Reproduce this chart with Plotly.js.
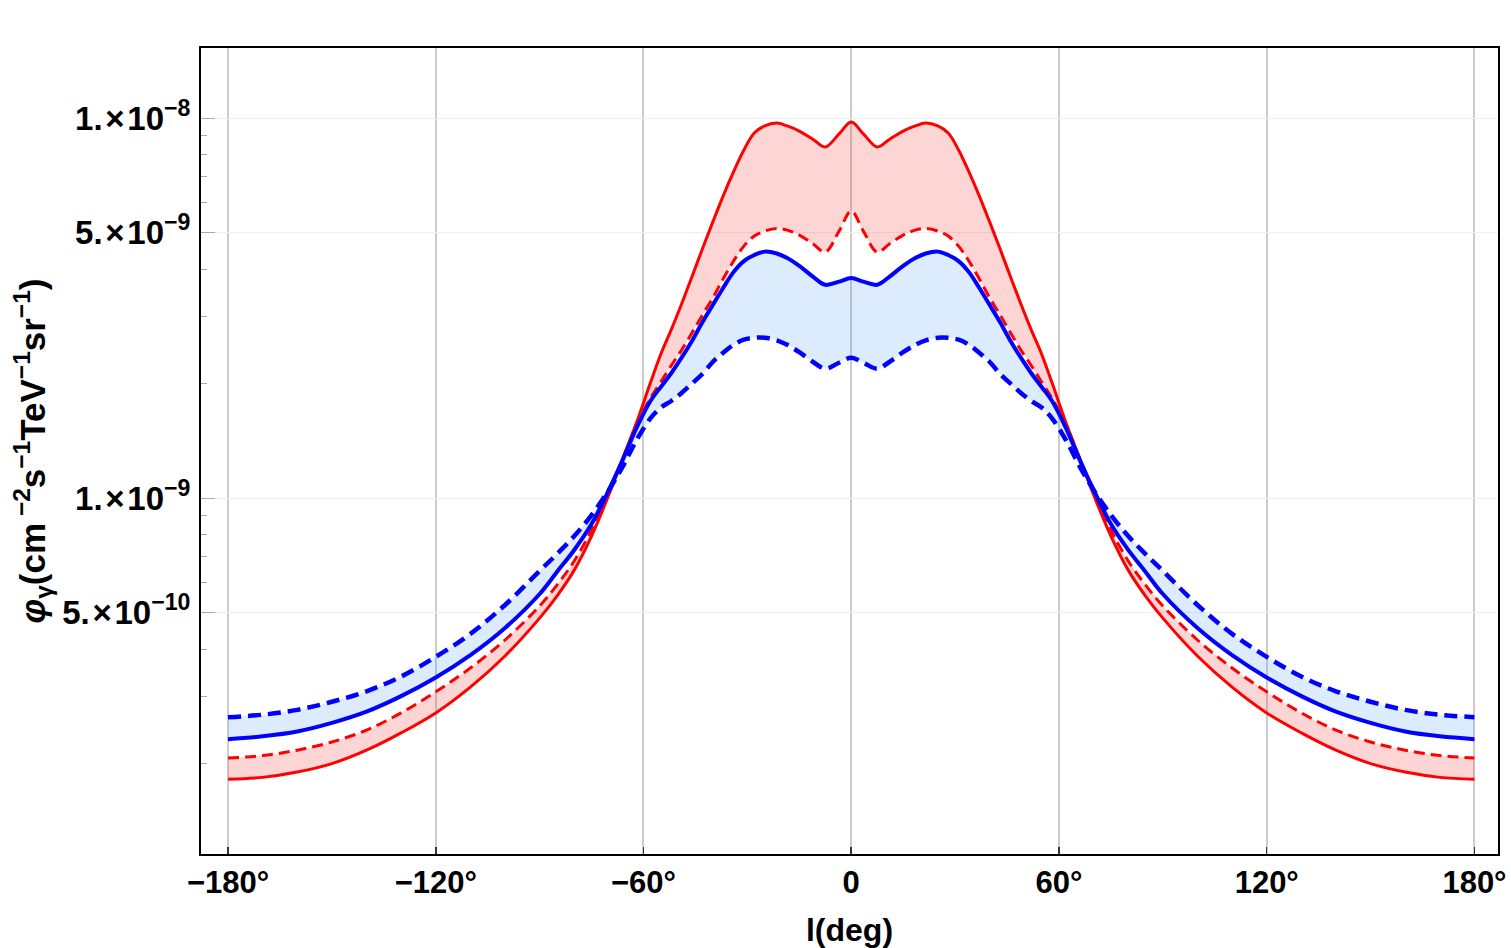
<!DOCTYPE html>
<html>
<head>
<meta charset="utf-8">
<script src="https://cdn.plot.ly/plotly-3.0.1.min.js"></script>
<style>
  html, body { margin: 0; padding: 0; background: #ffffff; }
  #chart { width: 1511px; height: 948px; }
</style>
</head>
<body>
<div id="chart"></div>
<script>
// Galactic longitude samples (degrees)
const longitude = [-180,-170,-160,-150,-140,-130,-120,-110,-100,-90,-85,-80,-75,-70,-66,-62,-58,-55,-52,-49,-46,-43,-40,-37,-34,-31,-28,-25,-21.5,-18.5,-15,-11,-7.5,-3.5,
  0,
  3.5,7.5,11,15,18.5,21.5,25,28,31,34,37,40,43,46,49,52,55,58,62,66,70,75,80,85,90,100,110,120,130,140,150,160,170,180];

// Gamma-ray flux profiles, cm^-2 s^-1 TeV^-1 sr^-1
const redSolid = [1.82e-10,1.84e-10,1.90e-10,2.00e-10,2.17e-10,2.41e-10,2.72e-10,3.18e-10,3.84e-10,4.83e-10,5.52e-10,6.46e-10,7.94e-10,1.02e-9,1.27e-9,1.58e-9,2.01e-9,2.39e-9,2.77e-9,3.24e-9,3.82e-9,4.52e-9,5.32e-9,6.23e-9,7.21e-9,8.24e-9,9.13e-9,9.53e-9,9.70e-9,9.53e-9,9.24e-9,8.78e-9,8.39e-9,9.08e-9,
  9.76e-9,
  9.08e-9,8.39e-9,8.78e-9,9.24e-9,9.53e-9,9.70e-9,9.53e-9,9.13e-9,8.24e-9,7.21e-9,6.23e-9,5.32e-9,4.52e-9,3.82e-9,3.24e-9,2.77e-9,2.39e-9,2.01e-9,1.58e-9,1.27e-9,1.02e-9,7.94e-10,6.46e-10,5.52e-10,4.83e-10,3.84e-10,3.18e-10,2.72e-10,2.41e-10,2.17e-10,2.00e-10,1.90e-10,1.84e-10,1.82e-10];

const redDashed = [2.07e-10,2.10e-10,2.17e-10,2.28e-10,2.45e-10,2.72e-10,3.09e-10,3.57e-10,4.23e-10,5.20e-10,5.90e-10,6.83e-10,8.24e-10,1.04e-9,1.27e-9,1.56e-9,1.83e-9,2.02e-9,2.23e-9,2.45e-9,2.72e-9,3.03e-9,3.36e-9,3.77e-9,4.20e-9,4.60e-9,4.89e-9,5.04e-9,5.12e-9,5.07e-9,4.92e-9,4.66e-9,4.44e-9,5.04e-9,
  5.69e-9,
  5.04e-9,4.44e-9,4.66e-9,4.92e-9,5.07e-9,5.12e-9,5.04e-9,4.89e-9,4.60e-9,4.20e-9,3.77e-9,3.36e-9,3.03e-9,2.72e-9,2.45e-9,2.23e-9,2.02e-9,1.83e-9,1.56e-9,1.27e-9,1.04e-9,8.24e-10,6.83e-10,5.90e-10,5.20e-10,4.23e-10,3.57e-10,3.09e-10,2.72e-10,2.45e-10,2.28e-10,2.17e-10,2.10e-10,2.07e-10];

const blueSolid = [2.32e-10,2.36e-10,2.43e-10,2.56e-10,2.74e-10,3.01e-10,3.37e-10,3.86e-10,4.55e-10,5.59e-10,6.39e-10,7.30e-10,8.54e-10,1.05e-9,1.26e-9,1.53e-9,1.80e-9,1.96e-9,2.13e-9,2.34e-9,2.59e-9,2.90e-9,3.22e-9,3.57e-9,3.93e-9,4.20e-9,4.36e-9,4.45e-9,4.40e-9,4.28e-9,4.08e-9,3.82e-9,3.64e-9,3.71e-9,
  3.79e-9,
  3.71e-9,3.64e-9,3.82e-9,4.08e-9,4.28e-9,4.40e-9,4.45e-9,4.36e-9,4.20e-9,3.93e-9,3.57e-9,3.22e-9,2.90e-9,2.59e-9,2.34e-9,2.13e-9,1.96e-9,1.80e-9,1.53e-9,1.26e-9,1.05e-9,8.54e-10,7.30e-10,6.39e-10,5.59e-10,4.55e-10,3.86e-10,3.37e-10,3.01e-10,2.74e-10,2.56e-10,2.43e-10,2.36e-10,2.32e-10];

const blueDashed = [2.65e-10,2.69e-10,2.77e-10,2.91e-10,3.10e-10,3.39e-10,3.82e-10,4.39e-10,5.23e-10,6.43e-10,7.12e-10,7.94e-10,9.02e-10,1.05e-9,1.21e-9,1.42e-9,1.62e-9,1.73e-9,1.80e-9,1.89e-9,2.00e-9,2.12e-9,2.28e-9,2.41e-9,2.53e-9,2.61e-9,2.64e-9,2.64e-9,2.60e-9,2.53e-9,2.42e-9,2.28e-9,2.19e-9,2.27e-9,
  2.34e-9,
  2.27e-9,2.19e-9,2.28e-9,2.42e-9,2.53e-9,2.60e-9,2.64e-9,2.64e-9,2.61e-9,2.53e-9,2.41e-9,2.28e-9,2.12e-9,2.00e-9,1.89e-9,1.80e-9,1.73e-9,1.62e-9,1.42e-9,1.21e-9,1.05e-9,9.02e-10,7.94e-10,7.12e-10,6.43e-10,5.23e-10,4.39e-10,3.82e-10,3.39e-10,3.10e-10,2.91e-10,2.77e-10,2.69e-10,2.65e-10];

// Axis ticks
const xTickVals = [-180, -120, -60, 0, 60, 120, 180];
const xTickText = ['\u2212180\u00b0', '\u2212120\u00b0', '\u221260\u00b0', '0', '60\u00b0', '120\u00b0', '180\u00b0'];
const yTickVals = [5e-10, 1e-9, 5e-9, 1e-8];
const yTickText = ['5.\u200a\u00d7\u200a10<sup>\u221210</sup>', '1.\u200a\u00d7\u200a10<sup>\u22129</sup>',
                   '5.\u200a\u00d7\u200a10<sup>\u22129</sup>', '1.\u200a\u00d7\u200a10<sup>\u22128</sup>'];
const yMinorVals = [2e-10, 3e-10, 4e-10, 6e-10, 7e-10, 8e-10, 9e-10,
  2e-9, 3e-9, 4e-9, 6e-9, 7e-9, 8e-9, 9e-9];

const FONT = 'Liberation Sans, Arial, Helvetica, sans-serif';
const RED = '#ff0000';
const BLUE = '#0000ff';

const lineCommon = { shape: 'spline', smoothing: 1 };

const traces = [
  { x: longitude, y: redDashed, mode: 'lines', name: 'red dashed',
    line: Object.assign({ color: RED, width: 3, dash: '11px,6px' }, lineCommon) },
  { x: longitude, y: redSolid, mode: 'lines', name: 'red solid', fill: 'tonexty',
    fillcolor: 'rgba(245,45,45,0.2)',
    line: Object.assign({ color: RED, width: 3 }, lineCommon) },
  { x: longitude, y: blueDashed, mode: 'lines', name: 'blue dashed',
    line: Object.assign({ color: BLUE, width: 4.5, dash: '13px,7px' }, lineCommon) },
  { x: longitude, y: blueSolid, mode: 'lines', name: 'blue solid', fill: 'tonexty',
    fillcolor: 'rgba(80,160,240,0.2)',
    line: Object.assign({ color: BLUE, width: 4 }, lineCommon) }
];

const layout = {
  width: 1511, height: 948,
  margin: { l: 201, r: 13, t: 48, b: 94, pad: 0 },
  paper_bgcolor: '#ffffff', plot_bgcolor: '#ffffff',
  showlegend: false,
  font: { family: FONT, color: '#000000' },
  xaxis: {
    range: [-187.8, 186.8],
    tickmode: 'array', tickvals: xTickVals, ticktext: xTickText,
    ticks: 'inside', ticklen: 7, tickwidth: 1.5, tickcolor: '#333333',
    tickfont: { family: FONT, size: 31, weight: 'bold', color: '#000000' },
    showgrid: true, gridcolor: '#cccccc', gridwidth: 2,
    zeroline: false,
    showline: true, linecolor: '#000000', linewidth: 2, mirror: true,
    title: { text: 'l(deg)', font: { family: FONT, size: 32, weight: 'bold', color: '#000000' }, standoff: 20 }
  },
  yaxis: {
    type: 'log',
    range: [-9.9368, -7.8158],
    tickmode: 'array', tickvals: yTickVals, ticktext: yTickText,
    ticks: 'inside', ticklen: 14, tickwidth: 1, tickcolor: '#aaaaaa',
    tickfont: { family: FONT, size: 33, weight: 'bold', color: '#000000' },
    ticklabelstandoff: 2,
    showgrid: true, gridcolor: '#eeeeee', gridwidth: 1,
    zeroline: false,
    showline: true, linecolor: '#000000', linewidth: 2, mirror: true,
    minor: { tickmode: 'array', tickvals: yMinorVals, ticks: 'inside', ticklen: 6, tickwidth: 1, tickcolor: '#aaaaaa', showgrid: false },
    title: { text: '<i>\u03c6</i><sub>\u03b3</sub>(cm<sup> \u22122</sup>s<sup>\u22121</sup>TeV<sup>\u22121</sup>sr<sup>\u22121</sup>)',
      font: { family: FONT, size: 35, weight: 'bold', color: '#000000' }, standoff: 6 }
  }
};

Plotly.newPlot('chart', traces, layout, { displayModeBar: false, staticPlot: true });
</script>
</body>
</html>
